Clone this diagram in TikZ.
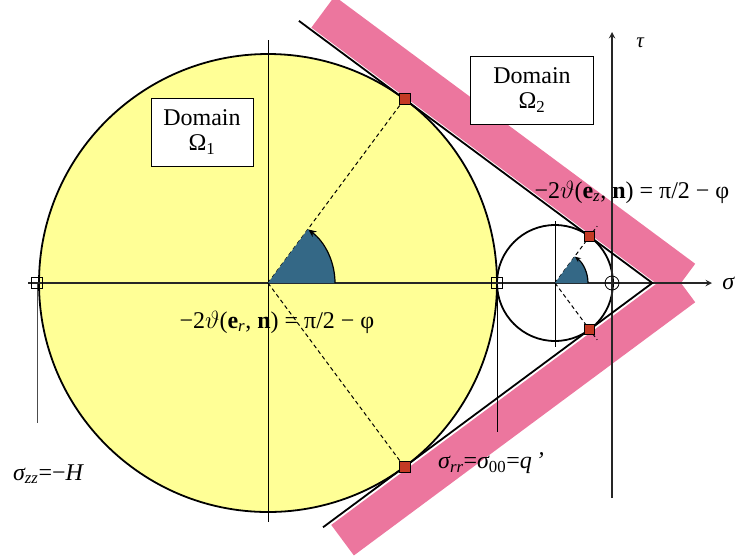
\documentclass[tikz,border=0pt]{standalone}
\usepackage{fontspec}
\setmainfont{Liberation Serif}
\usetikzlibrary{calc,arrows.meta}
\definecolor{domyellow}{RGB}{255,255,150}
\definecolor{bandpink}{RGB}{236,118,158}
\definecolor{wedgeblue}{RGB}{52,104,134}
\definecolor{ptred}{RGB}{196,58,36}
\begin{document}
\begin{tikzpicture}[x=1pt,y=-1pt,>=stealth,font=\fontsize{24}{25}\selectfont,
  domainbox/.style={draw,fill=white,align=center,inner sep=3pt,minimum height=68pt,line width=0.8pt},
  redpt/.style={draw=black,fill=ptred,minimum size=11pt,inner sep=0pt,line width=0.6pt},
  openpt/.style={draw=black,minimum size=11pt,inner sep=0pt,line width=0.8pt},
  thinline/.style={line width=0.6pt},
  thickline/.style={line width=1.8pt},
  normal/.style={line width=1pt,dash pattern=on 4pt off 3pt},
  anglearc/.style={line width=1.2pt,-{Stealth[length=8pt,width=7pt]}},
  band/.style={fill=bandpink,draw=none}]
\useasboundingbox (0,0) rectangle (735,558);
\coordinate (c1) at (268,283);
\coordinate (c2) at (555,283);
\coordinate (apex) at (652.3,283);
\coordinate (t1) at ($(c1)+(-53.43:229)$);
\coordinate (t2) at ($(c1)+(53.43:229)$);
\coordinate (t3) at ($(c2)+(-53.43:58)$);
\coordinate (t4) at ($(c2)+(53.43:58)$);
% pink bands outside the tangent lines
\fill[band] ($(apex)+(36.57:23)+(-53.43:2)$) -- ($(apex)+(216.57:426)+(-53.43:2)$)
  -- ++(-53.43:39) -- ($(apex)+(36.57:23)+(-53.43:41)$) -- cycle;
\fill[band] ($(apex)+(-36.57:23)+(53.43:3)$) -- ($(apex)+(143.43:402)+(53.43:3)$)
  -- ++(53.43:38) -- ($(apex)+(-36.57:23)+(53.43:41)$) -- cycle;
% circles
\fill[domyellow] (c1) circle (229);
\draw[thickline] (c1) circle (229);
\draw[thickline] (c2) circle (58);
% thin verticals
\draw[thinline] (268,40) -- (268,522);
\draw[thinline] (555,221) -- (555,347);
\draw[thinline,black!70] (37,283) -- (37,423);
\draw[thinline] (497,283) -- (497,432);
% axes
\coordinate (sl) at (28,283);
\coordinate (sr) at (712,283);
\coordinate (tb) at (612,498);
\coordinate (tt) at (612,32);
\draw[thickline,->,black!85] (sl) -- (sr);
\draw[thickline,->,black!85] (tb) -- (tt);
% tangent lines
\draw[thickline] ($(apex)+(216.57:440)$) -- (apex) -- ($(apex)+(143.43:410)$);
% normals
\draw[normal] (c1) -- (t1);
\draw[normal] (c1) -- (t2);
\draw[normal] (c2) -- ($(c2)!1.22!(t3)$);
\draw[normal] (c2) -- ($(c2)!1.22!(t4)$);
% angle wedges
\fill[wedgeblue] (c1) -- ++(0:67) arc[start angle=0,end angle=-53.43,radius=67] -- cycle;
\draw[anglearc] ($(c1)+(0:67)$) arc[start angle=0,end angle=-53,radius=67];
\fill[wedgeblue] (c2) -- ++(0:33) arc[start angle=0,end angle=-53.43,radius=33] -- cycle;
\draw[anglearc,-{Stealth[length=6pt,width=5pt]}] ($(c2)+(0:33)$) arc[start angle=0,end angle=-53,radius=33];
% points
\node[redpt] (p1) at (t1) {};
\node[redpt] (p2) at (t2) {};
\node[redpt,minimum size=10pt] (p3) at (t3) {};
\node[redpt,minimum size=10pt] (p4) at (t4) {};
\node[openpt] (q1) at (37,283) {};
\node[openpt] (q2) at (497,283) {};
\node[draw,circle,minimum size=14pt,inner sep=0pt,line width=0.8pt] (q3) at (612,283) {};
% labels
\node[domainbox,minimum width=102pt] (dom1) at (202,132) {Domain\\Ω\textsubscript{1}};
\node[domainbox,minimum width=123pt] (dom2) at (532,90) {Domain\\Ω\textsubscript{2}};
\node (lblz) at (632,192) {−2$\vartheta$(\textbf{e}\textsubscript{\itshape z}, \textbf{n}) = π/2 − φ};
\node (lblr) at (277,322) {−2$\vartheta$(\textbf{e}\textsubscript{\itshape r}, \textbf{n}) = π/2 − φ};
\node (lblh) at (48,474) {\itshape σ\textsubscript{zz}\upshape =−\itshape H};
\node (lblq) at (491,463) {\itshape σ\textsubscript{rr}\upshape =\itshape σ\textsubscript{\upshape 00}\upshape =\itshape q\,’};
\node[font=\fontsize{21}{22}\selectfont\itshape] (tau) at (640,43) {τ};
\node[font=\fontsize{24}{25}\selectfont\itshape,anchor=east,inner sep=0.5pt] (sig) at (735,283) {σ};
\end{tikzpicture}
\end{document}
